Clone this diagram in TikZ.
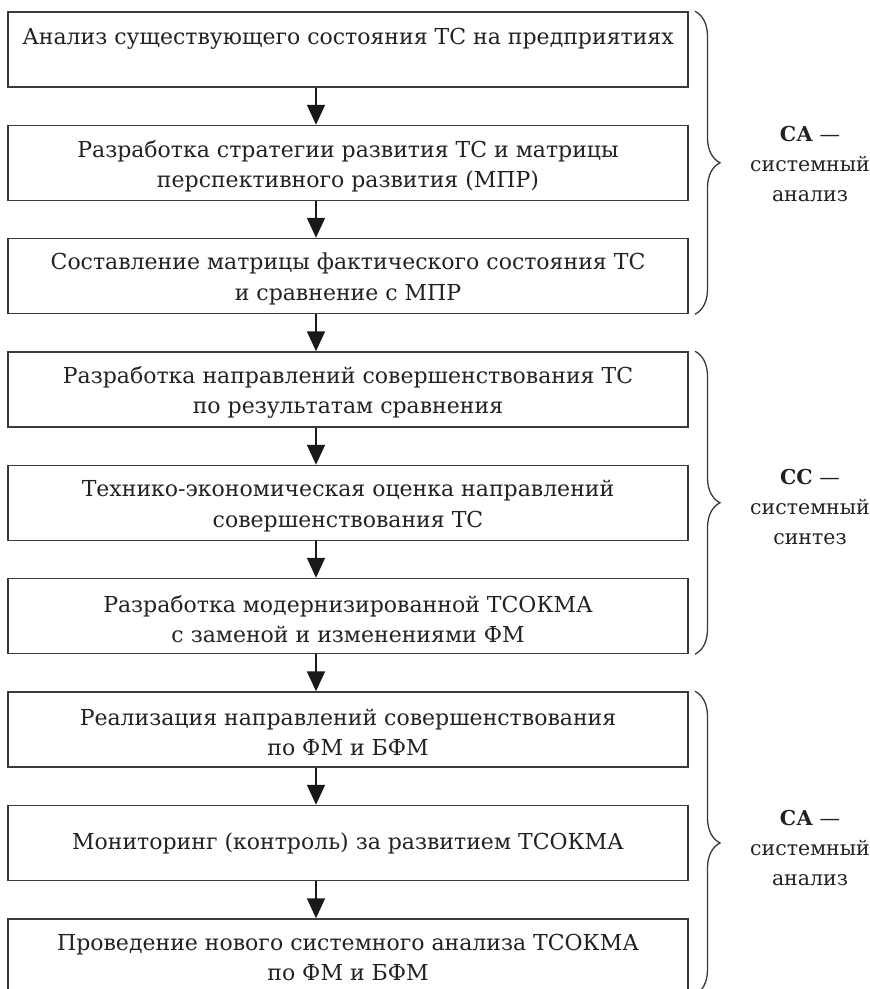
\documentclass[tikz,border=0pt]{standalone}
\usepackage{fontspec}
\setmainfont{DejaVu Serif}
\usetikzlibrary{arrows.meta,decorations.pathreplacing}
\definecolor{boxc}{HTML}{3A3A3A}
\definecolor{txt}{HTML}{222222}
\begin{document}
\begin{tikzpicture}[x=1pt,y=-1pt,
  stepbox/.style={draw=boxc, line width=1.5pt, minimum width=680pt, minimum height=75pt, inner sep=0pt},
  boxtext/.style={inner sep=0pt, align=center, text=txt, font=\fontsize{22}{30.5}\selectfont},
  arr/.style={draw=black!90, line width=1.8pt, -{Triangle[width=18pt,length=20pt]}},
  br/.style={draw=boxc, decorate, decoration={brace, amplitude=25pt}, line width=1.3pt},
  lab/.style={align=center, text=txt, font=\fontsize{20.5}{30}\selectfont}]
\useasboundingbox (0,0) rectangle (870,989);
\fill[white] (0,0) rectangle (870,989);
\node[stepbox] (b1) at (348,49.5) {};
\node[stepbox] (b2) at (348,163) {};
\node[stepbox] (b3) at (348,276) {};
\node[stepbox] (b4) at (348,389.5) {};
\node[stepbox] (b5) at (348,503) {};
\node[stepbox] (b6) at (348,616) {};
\node[stepbox] (b7) at (348,729.5) {};
\node[stepbox] (b8) at (348,843) {};
\node[stepbox] (b9) at (348,956.5) {};
\node[boxtext] (t1) at ([yshift=-2pt]b1.center) {Анализ существующего состояния ТС на предприятиях\\\mbox{}};
\node[boxtext] (t2) at ([yshift=-3pt]b2.center) {Разработка стратегии развития ТС и матрицы\\перспективного развития (МПР)};
\node[boxtext] (t3) at ([yshift=-3pt]b3.center) {Составление матрицы фактического состояния ТС\\и сравнение с МПР};
\node[boxtext] (t4) at ([yshift=-3pt]b4.center) {Разработка направлений совершенствования ТС\\по результатам сравнения};
\node[boxtext] (t5) at ([yshift=-3pt]b5.center) {Технико-экономическая оценка направлений\\совершенствования ТС};
\node[boxtext] (t6) at ([yshift=-3pt]b6.center) {Разработка модернизированной ТСОКМА\\с заменой и изменениями ФМ};
\node[boxtext] (t7) at ([yshift=-3pt]b7.center) {Реализация направлений совершенствования\\по ФМ и БФМ};
\node[boxtext] (t8) at (b8.center) {Мониторинг (контроль) за развитием ТСОКМА};
\node[boxtext] (t9) at ([yshift=-1pt]b9.center) {Проведение нового системного анализа ТСОКМА\\по ФМ и БФМ};
\coordinate (ax) at (316,0);
\foreach \a/\b in {b1/b2,b2/b3,b3/b4,b4/b5,b5/b6,b6/b7,b7/b8,b8/b9}
  \draw[arr] (\a.south -| ax) -- (\b.north -| ax);
\coordinate (bx) at (695,0);
\draw[br] (b1.north -| bx) -- (b3.south -| bx);
\draw[br] (b4.north -| bx) -- (b6.south -| bx);
\draw[br] (b7.north -| bx) -- (b9.south -| bx);
\node[lab] (l1) at (810,164) {\textbf{СА} —\\системный\\анализ};
\node[lab] (l2) at (810,507) {\textbf{СС} —\\системный\\синтез};
\node[lab] (l3) at (810,848) {\textbf{СА} —\\системный\\анализ};
\end{tikzpicture}
\end{document}
